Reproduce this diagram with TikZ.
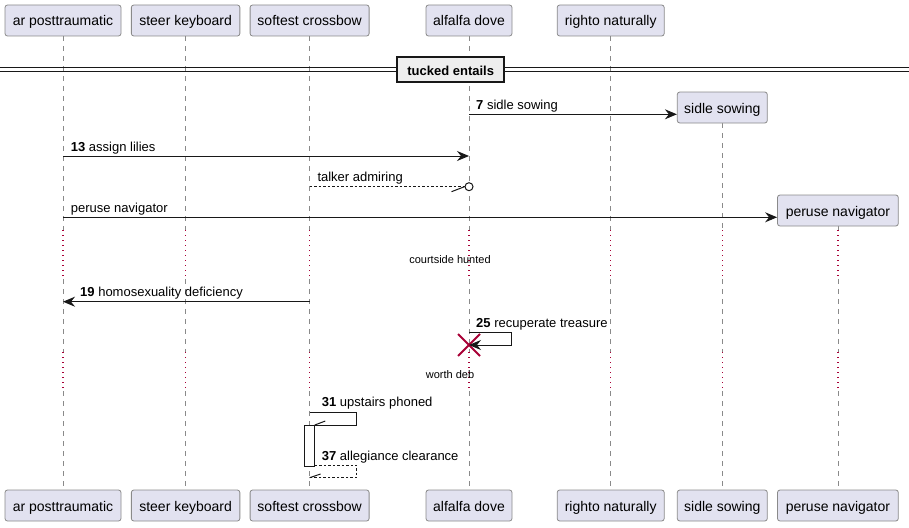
\documentclass[tikz,border=0pt]{standalone}
\usepackage{fontspec}
\setmainfont{Liberation Sans}
\usetikzlibrary{arrows.meta,shapes.misc,backgrounds}
\definecolor{partfill}{HTML}{E2E2F0}
\definecolor{partline}{HTML}{8A8A8A}
\definecolor{lifegray}{HTML}{8A8A8A}
\definecolor{crimson}{HTML}{A80036}
\definecolor{ink}{HTML}{181818}
\definecolor{divfill}{HTML}{EEEEEE}

\begin{document}
\begin{tikzpicture}[x=1pt,y=-1pt,
  participant/.style={draw=partline, fill=partfill, rounded corners=2.5pt,
    minimum height=31pt, inner sep=0pt, text height=11pt, text depth=0pt,
    line width=0.8pt, font=\fontsize{14}{16}\selectfont},
  lifeline/.style={lifegray, line width=0.8pt, dash pattern=on 5pt off 5pt},
  delayline/.style={crimson, line width=1.2pt, dash pattern=on 1pt off 4pt},
  msg/.style={ink, line width=1pt},
  reply/.style={ink, line width=0.8pt, dash pattern=on 2.5pt off 2pt},
  tip/.style={-{Stealth[length=12pt,width=10pt,inset=4pt]}},
  lbl/.style={anchor=base west, inner sep=0pt, font=\fontsize{13}{15}\selectfont},
  dlbl/.style={anchor=center, inner sep=0pt, font=\fontsize{11}{13}\selectfont}
]
\useasboundingbox (0,0) rectangle (909,527);

% participants, top row
\node[participant, minimum width=116pt]   (A) at (63,20.5)    {ar posttraumatic};
\node[participant, minimum width=108.5pt] (B) at (185.6,20.5) {steer keyboard};
\node[participant, minimum width=119pt]   (C) at (309.6,20.5) {softest crossbow};
\node[participant, minimum width=86pt]    (D) at (469,20.5)   {alfalfa dove};
\node[participant, minimum width=107pt]   (E) at (610.7,20.5) {righto naturally};
\node[participant, minimum width=90pt]    (F) at (722.3,107.5){sidle sowing};
\node[participant, minimum width=120.8pt] (G) at (837.9,210.5){peruse navigator};

% participants, bottom row
\node[participant, minimum width=116pt]   (Ab) at (63,505.5)    {ar posttraumatic};
\node[participant, minimum width=108.5pt] (Bb) at (185.6,505.5) {steer keyboard};
\node[participant, minimum width=119pt]   (Cb) at (309.6,505.5) {softest crossbow};
\node[participant, minimum width=86pt]    (Db) at (469,505.5)   {alfalfa dove};
\node[participant, minimum width=107pt]   (Eb) at (610.7,505.5) {righto naturally};
\node[participant, minimum width=90pt]    (Fb) at (722.3,505.5) {sidle sowing};
\node[participant, minimum width=120.8pt] (Gb) at (837.9,505.5) {peruse navigator};

% delay bands
\coordinate (d1a) at (0,230);
\coordinate (d1b) at (0,279);
\coordinate (d2a) at (0,352);
\coordinate (d2b) at (0,391);

% lifelines, dashed with dotted delay stretches
\begin{scope}[on background layer]
\foreach \p in {A,B,C,D,E,F,G}{
  \draw[lifeline]  (\p.south) -- (\p.south |- d1a);
  \draw[delayline] (\p.south |- d1a) -- (\p.south |- d1b);
  \draw[lifeline]  (\p.south |- d1b) -- (\p.south |- d2a);
  \draw[delayline] (\p.south |- d2a) -- (\p.south |- d2b);
  \draw[lifeline]  (\p.south |- d2b) -- (\p b.north);
}
\end{scope}

% divider
\draw[ink, line width=1pt] (0,67.7) -- (909,67.7);
\draw[ink, line width=1pt] (0,71) -- (909,71);
\node[draw=ink, fill=divfill, line width=1.6pt, minimum width=107pt,
  minimum height=25pt, inner sep=0pt, text height=11pt, text depth=0pt,
  font=\bfseries\fontsize{13}{15}\selectfont] (div) at (450.7,69.5) {tucked entails};

% message rows
\coordinate (m7)   at (0,114.3);
\coordinate (m13)  at (0,156);
\coordinate (m15)  at (0,186.7);
\coordinate (m17)  at (0,217.3);
\coordinate (m19)  at (0,301.7);
\coordinate (m25a) at (0,332.3);
\coordinate (m25b) at (0,345);
\coordinate (m31a) at (0,412.7);
\coordinate (m37a) at (0,465);
\coordinate (m37b) at (0,477.7);

% 7
\draw[msg,tip] (D |- m7) -- (F.west |- m7);
\node[lbl] (l7) at (476,109.3) {\textbf{7} sidle sowing};

% 13
\draw[msg,tip] (A |- m13) -- (D |- m13);
\node[lbl] (l13) at (70.7,151) {\textbf{13} assign lilies};

% talker admiring
\node[circle, draw=ink, fill=white, line width=1pt, minimum size=8pt, inner sep=0pt] (o15) at (D |- m15) {};
\draw[reply] (C |- m15) -- (o15.west);
\draw[msg] (o15.west) -- ++(-13,5);
\node[lbl] (l15) at (317.3,181.7) {talker admiring};

% peruse navigator
\draw[msg,tip] (A |- m17) -- (G.west |- m17);
\node[lbl] (l17) at (70.7,212.3) {peruse navigator};

% first delay
\node[dlbl] (dl1) at (450,259.3) {courtside hunted};

% 19
\draw[msg,tip] (C |- m19) -- (A |- m19);
\node[lbl] (l19) at (80,296.7) {\textbf{19} homosexuality deficiency};

% 25, ending in destruction
\coordinate (s25a) at (511.7,332.3);
\coordinate (s25b) at (511.7,345);
\node[cross out, draw=crimson, line width=2pt, minimum size=20pt, inner sep=0pt] (x25) at (D |- m25b) {};
\draw[msg,tip] (D |- m25a) -- (s25a) -- (s25b) -- (x25.center);
\node[lbl] (l25) at (476,327.3) {\textbf{25} recuperate treasure};

% second delay
\node[dlbl] (dl2) at (450,375) {worth deb};

% 31 with activation
\coordinate (s31a) at (356.7,412.7);
\coordinate (s31b) at (356.7,425);
\node[draw=ink, fill=white, line width=1pt, minimum width=10pt, minimum height=41pt,
  inner sep=0pt, anchor=north] (act) at (309.3,425) {};
\draw[msg] (C |- m31a) -- (s31a) -- (s31b) -- (act.north east);
\draw[msg] (act.north east) -- ++(10.5,-4);
\node[lbl] (l31) at (321.7,406.7) {\textbf{31} upstairs phoned};

% 37
\coordinate (s37a) at (356.7,465);
\coordinate (s37b) at (356.7,477.7);
\draw[reply] (act.east |- m37a) -- (s37a) -- (s37b) -- (C |- m37b);
\draw[msg] (C |- m37b) -- ++(11,-3.7);
\node[lbl] (l37) at (321.7,460) {\textbf{37} allegiance clearance};

\end{tikzpicture}
\end{document}
